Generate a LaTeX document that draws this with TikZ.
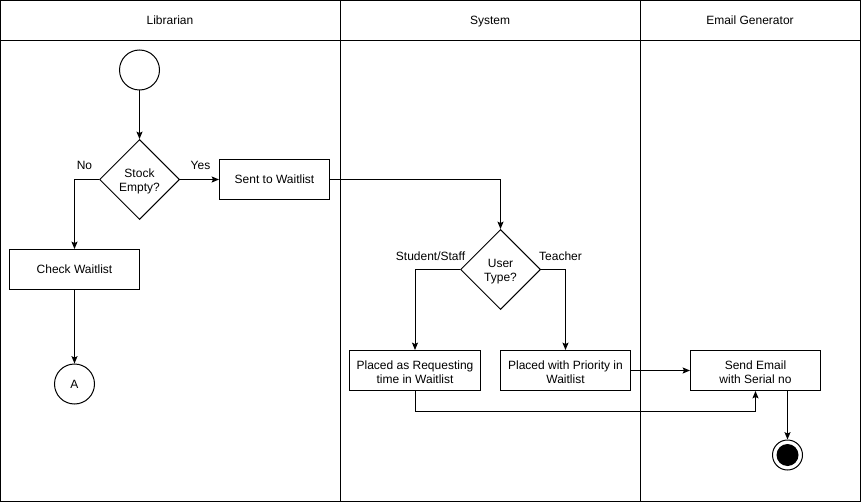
\documentclass[tikz,border=0pt]{standalone}
\usepackage{fontspec}
\setmainfont{Liberation Sans}
\usetikzlibrary{shapes.geometric,arrows.meta,calc}
% line strut matching a 9pt font with 1.2 line height
\newcommand{\linestrut}{\rule[-2.3pt]{0pt}{10.8pt}}
\begin{document}
\begin{tikzpicture}[x=0.75pt,y=-0.75pt,
  every node/.style={font=\fontsize{9pt}{10.8pt}\selectfont, align=center},
  oneline/.style={execute at begin node=\linestrut, execute at end node=\linestrut},
  inside/.style={label={[name=#1, inner sep=0pt, yshift=-1.5pt, align=center, font=\fontsize{9pt}{10.8pt}\selectfont]center:\csname lbl#1\endcsname}},
  line/.style={line width=0.75pt, draw=black},
  flow/.style={line, -{Stealth[length=5.5pt,width=4.5pt,inset=1pt]}},
  actbox/.style={draw, line width=0.75pt, rectangle, minimum height=30pt, inner sep=2pt},
  decision/.style={draw, line width=0.75pt, diamond, minimum width=60pt, minimum height=60pt, inner sep=0pt},
  startnode/.style={draw, line width=0.75pt, circle, minimum size=30pt, inner sep=0pt},
  endnode/.style={draw, line width=0.75pt, circle, minimum size=22.5pt, inner sep=0pt},
  tag/.style={oneline, inner sep=0pt},
  lanetitle/.style={oneline, inner sep=0pt}]
% two-line captions set inside their shapes
\def\lblstockText{Stock\\Empty?}
\def\lbluserText{User\\Type?}
\def\lblreqText{Placed as Requesting\\time in Waitlist}
\def\lblprioText{Placed with Priority in\\Waitlist}
\def\lblmailText{Send Email\\with Serial no}
\useasboundingbox (0,0) rectangle (861,503);
\fill[white] (0,0) rectangle (861,503);

% pool frame, header band and lane separators
\draw[line] (0.5,0.5) rectangle (860.5,501.5);
\draw[line] (0.5,40.5) -- (860.5,40.5);
\draw[line] (340.5,0.5) -- (340.5,501.5);
\draw[line] (640.5,0.5) -- (640.5,501.5);
\node[lanetitle] (laneLib) at (170,20.5) {Librarian};
\node[lanetitle] (laneSys) at (490,20.5) {System};
\node[lanetitle] (laneMail) at (750,20.5) {Email Generator};

% Librarian lane
\node[startnode] (start) at (139.5,70) {};
\node[decision, inside=stockText] (stock) at (139.5,179.5) {};
\node[actbox, oneline, minimum width=82.5pt] (sent) at (274.5,179.5) {Sent to Waitlist};
\node[actbox, oneline, minimum width=97.5pt] (check) at (74.5,269.5) {Check Waitlist};
\node[startnode, oneline] (conA) at (74.5,384) {A};

% System lane
\node[decision, inside=userText] (user) at (500.5,269.5) {};
\node[actbox, inside=reqText, minimum width=98.25pt] (req) at (415,370.5) {};
\node[actbox, inside=prioText, minimum width=97.5pt] (prio) at (565.5,370.5) {};

% Email Generator lane
\node[actbox, inside=mailText, minimum width=97.5pt] (mail) at (755.5,370.5) {};
\node[endnode] (finish) at (787.5,455) {};
\fill (finish.center) circle (8.25pt);

% connectors
\draw[flow] (start) -- (stock);
\draw[flow] (stock.east) -- (sent.west);
\node[tag] (yes) at (200.5,165) {Yes};
\draw[flow] (stock.west) -| (check.north);
\node[tag] (no) at (84.5,165) {No};
\draw[flow] (check) -- (conA);
\draw[flow] (sent.east) -| (user.north);
\draw[flow] (user.west) -| (req.north);
\node[tag] (staff) at (430.5,256) {Student/Staff};
\draw[flow] (user.east) -| (prio.north);
\node[tag] (teacher) at (560.5,256) {Teacher};
\draw[flow] (prio.east) -- (mail.west);
\draw[flow] (req.south) -- ++(0,20) -| (mail.south);
\draw[flow] (finish.north |- mail.south) -- (finish.north);
\end{tikzpicture}
\end{document}
